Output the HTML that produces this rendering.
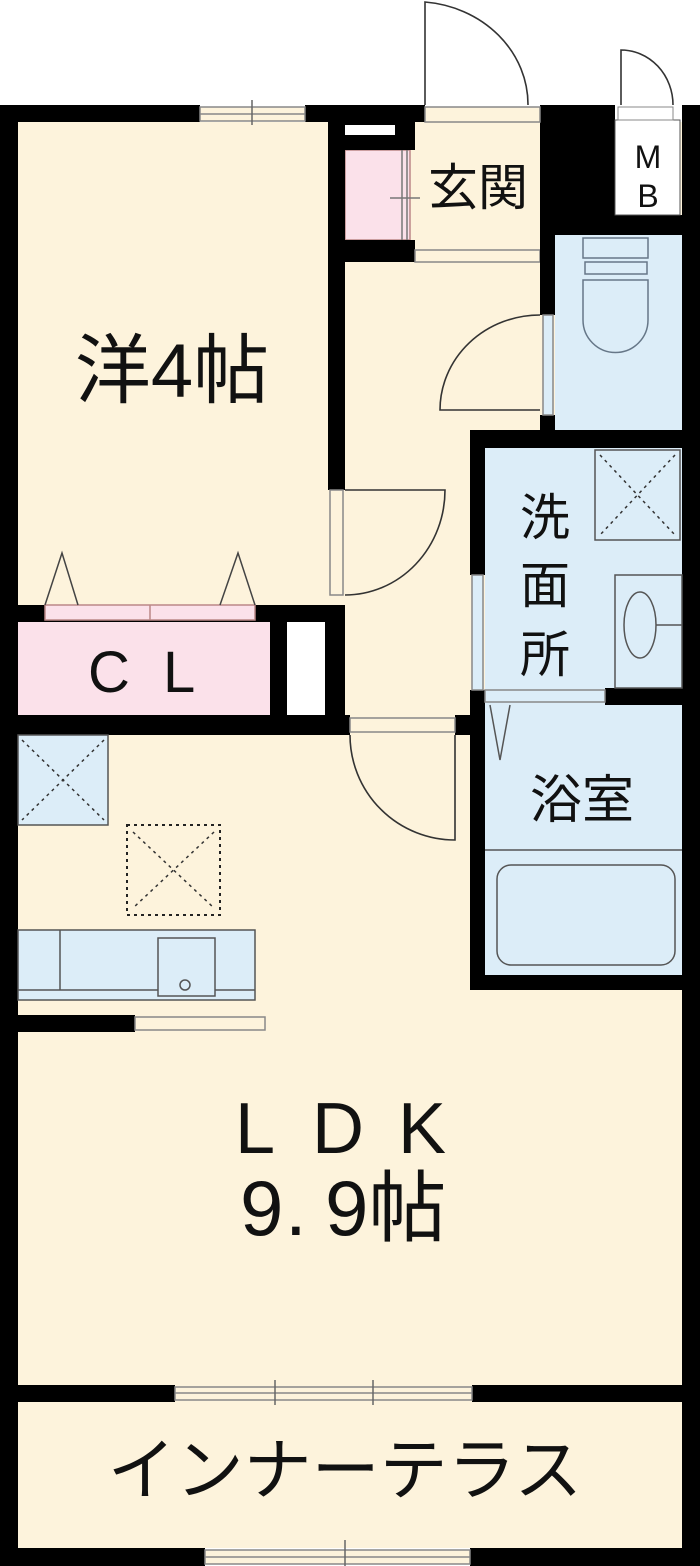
<!DOCTYPE html>
<html><head><meta charset="utf-8"><style>
html,body{margin:0;padding:0;background:#fff;}
svg{display:block;}
text{font-family:"Liberation Sans","Noto Sans CJK JP",sans-serif;fill:#111;}
</style></head><body>
<svg width="700" height="1566" viewBox="0 0 700 1566" xmlns="http://www.w3.org/2000/svg">
<rect x="18" y="122" width="664" height="1426" fill="#fdf3dc"/>
<rect x="555" y="235" width="127" height="195" fill="#dcedf8"/>
<rect x="485" y="448" width="197" height="527" fill="#dcedf8"/>
<rect x="18" y="620" width="252" height="95" fill="#fbe1ea"/>
<rect x="345" y="150" width="65" height="90" fill="#fbe1ea" stroke="#b88" stroke-width="1.5"/>
<rect x="0" y="105" width="18" height="1461" fill="#000"/>
<rect x="682" y="105" width="18" height="1461" fill="#000"/>
<rect x="0" y="105" width="200" height="17" fill="#000"/>
<rect x="305" y="105" width="120" height="17" fill="#000"/>
<rect x="540" y="105" width="75" height="130" fill="#000"/>
<rect x="540" y="215" width="160" height="20" fill="#000"/>
<rect x="0" y="1548" width="205" height="18" fill="#000"/>
<rect x="470" y="1548" width="230" height="18" fill="#000"/>
<rect x="200" y="107" width="105" height="14" fill="#fdf3dc" stroke="#888" stroke-width="1.5"/>
<line x1="200" y1="114" x2="305" y2="114" stroke="#888" stroke-width="1.5"/>
<line x1="252" y1="100" x2="252" y2="125" stroke="#666" stroke-width="1.5"/>
<rect x="425" y="107" width="115" height="15" fill="#fdf3dc" stroke="#888" stroke-width="1.5"/>
<path d="M425 105 V2 A113 103 0 0 1 528 105" fill="none" stroke="#333" stroke-width="1.6"/>
<rect x="615" y="120" width="65" height="95" fill="#fff" stroke="#555"/>
<rect x="618" y="107" width="55" height="13" fill="#fff" stroke="#888"/>
<path d="M621 105 V50 A52 55 0 0 1 673 105" fill="none" stroke="#333" stroke-width="1.6"/>
<text x="648" y="168" font-size="32" text-anchor="middle">M</text>
<text x="648" y="207" font-size="32" text-anchor="middle">B</text>
<rect x="328" y="122" width="17" height="368" fill="#000"/>
<rect x="345" y="122" width="70" height="28" fill="#000"/>
<rect x="345" y="240" width="70" height="22" fill="#000"/>
<rect x="345" y="125" width="50" height="10" fill="#fff"/>
<line x1="402" y1="150" x2="402" y2="240" stroke="#777" stroke-width="1.5"/>
<line x1="407" y1="150" x2="407" y2="240" stroke="#777" stroke-width="1.5"/>
<line x1="390" y1="198" x2="420" y2="198" stroke="#777" stroke-width="1.5"/>
<rect x="415" y="250" width="125" height="12" fill="#fdf3dc" stroke="#888" stroke-width="1.5"/>
<text x="478" y="205" font-size="50" text-anchor="middle">玄関</text>
<rect x="540" y="235" width="15" height="80" fill="#000"/>
<rect x="540" y="415" width="15" height="15" fill="#000"/>
<rect x="543" y="315" width="10" height="100" fill="#dcedf8" stroke="#888" stroke-width="1.5"/>
<path d="M540 315 A100 95 0 0 0 440 410 H540" fill="none" stroke="#333" stroke-width="1.6"/>
<rect x="583" y="238" width="65" height="20" fill="#dcedf8" stroke="#678" stroke-width="1.5"/>
<rect x="585" y="262" width="62" height="12" fill="#dcedf8" stroke="#678" stroke-width="1.5"/>
<path d="M583 280 H648 V320 A32 32 0 0 1 583 320 Z" fill="#dcedf8" stroke="#678" stroke-width="1.5"/>
<rect x="470" y="430" width="230" height="18" fill="#000"/>
<rect x="470" y="430" width="15" height="145" fill="#000"/>
<rect x="470" y="690" width="15" height="300" fill="#000"/>
<rect x="472" y="575" width="11" height="115" fill="#dcedf8" stroke="#888" stroke-width="1.5"/>
<rect x="605" y="688" width="95" height="17" fill="#000"/>
<rect x="485" y="690" width="120" height="12" fill="#dcedf8" stroke="#888" stroke-width="1.5"/>
<path d="M490 705 L500 760 L510 705" fill="none" stroke="#555" stroke-width="1.5"/>
<rect x="595" y="450" width="85" height="90" fill="#dcedf8" stroke="#555" stroke-width="1.5"/>
<path d="M600 455 L675 535 M675 455 L600 535" stroke="#333" stroke-width="1.5" stroke-dasharray="3,4"/>
<rect x="615" y="575" width="67" height="113" fill="#dcedf8" stroke="#555" stroke-width="1.5"/>
<ellipse cx="640" cy="625" rx="16" ry="33" fill="none" stroke="#555" stroke-width="1.5"/>
<line x1="656" y1="625" x2="682" y2="625" stroke="#555" stroke-width="1.5"/>
<text x="545" y="535" font-size="50" text-anchor="middle">洗</text>
<text x="545" y="603" font-size="50" text-anchor="middle">面</text>
<text x="545" y="672" font-size="50" text-anchor="middle">所</text>
<text x="582" y="818" font-size="52" text-anchor="middle">浴室</text>
<line x1="485" y1="850" x2="682" y2="850" stroke="#555" stroke-width="1.5"/>
<rect x="497" y="865" width="178" height="100" rx="14" fill="#dcedf8" stroke="#555" stroke-width="1.5"/>
<rect x="470" y="975" width="230" height="15" fill="#000"/>
<rect x="330" y="490" width="13" height="105" fill="#fdf3dc" stroke="#888" stroke-width="1.5"/>
<path d="M345 490 H445 A100 105 0 0 1 345 595" fill="none" stroke="#333" stroke-width="1.6"/>
<rect x="0" y="605" width="345" height="17" fill="#000"/>
<rect x="45" y="605" width="210" height="15" fill="#fbe1ea" stroke="#b88" stroke-width="1.5"/>
<line x1="150" y1="605" x2="150" y2="620" stroke="#b88" stroke-width="1.5"/>
<path d="M45 605 L62 553 L78 605 M220 605 L238 553 L255 605" fill="none" stroke="#444" stroke-width="1.5"/>
<rect x="270" y="620" width="17" height="95" fill="#000"/>
<rect x="325" y="605" width="20" height="115" fill="#000"/>
<rect x="287" y="622" width="38" height="93" fill="#fff"/>
<text x="88" y="692" font-size="58">C</text>
<text x="163" y="692" font-size="58">L</text>
<rect x="0" y="715" width="350" height="20" fill="#000"/>
<rect x="455" y="715" width="30" height="20" fill="#000"/>
<rect x="350" y="718" width="105" height="14" fill="#fdf3dc" stroke="#888" stroke-width="1.5"/>
<path d="M350 735 A105 105 0 0 0 455 840 V735" fill="none" stroke="#333" stroke-width="1.6"/>
<rect x="18" y="735" width="90" height="90" fill="#dcedf8" stroke="#555" stroke-width="1.5"/>
<path d="M22 740 L104 820 M104 740 L22 820" stroke="#333" stroke-width="1.5" stroke-dasharray="3,4"/>
<rect x="127" y="825" width="93" height="90" fill="none" stroke="#222" stroke-width="2" stroke-dasharray="3,4"/>
<path d="M133 832 L214 908 M214 832 L133 908" stroke="#333" stroke-width="1.5" stroke-dasharray="3,4"/>
<rect x="18" y="930" width="237" height="70" fill="#dcedf8" stroke="#555" stroke-width="1.5"/>
<line x1="18" y1="990" x2="255" y2="990" stroke="#555" stroke-width="1.5"/>
<line x1="60" y1="930" x2="60" y2="990" stroke="#555" stroke-width="1.5"/>
<rect x="158" y="938" width="57" height="58" fill="#dcedf8" stroke="#555" stroke-width="1.5"/>
<circle cx="185" cy="985" r="5" fill="none" stroke="#555" stroke-width="1.5"/>
<rect x="0" y="1015" width="135" height="17" fill="#000"/>
<rect x="135" y="1017" width="130" height="13" fill="#fdf3dc" stroke="#888" stroke-width="1.5"/>
<text x="235" y="1153" font-size="72">L</text>
<text x="312" y="1153" font-size="72">D</text>
<text x="398" y="1153" font-size="72">K</text>
<text x="240" y="1235" font-size="78">9</text>
<text x="285" y="1235" font-size="78">.</text>
<text x="325" y="1235" font-size="78">9帖</text>
<text x="172" y="397" font-size="76" text-anchor="middle">洋4帖</text>
<rect x="0" y="1385" width="175" height="17" fill="#000"/>
<rect x="472" y="1385" width="228" height="17" fill="#000"/>
<rect x="175" y="1387" width="297" height="13" fill="#fdf3dc" stroke="#888" stroke-width="1.5"/>
<line x1="175" y1="1393" x2="472" y2="1393" stroke="#888" stroke-width="1.5"/>
<line x1="275" y1="1380" x2="275" y2="1405" stroke="#666" stroke-width="1.5"/>
<line x1="373" y1="1380" x2="373" y2="1405" stroke="#666" stroke-width="1.5"/>
<text x="345" y="1494" font-size="68" text-anchor="middle">インナーテラス</text>
<rect x="205" y="1550" width="265" height="14" fill="#fdf3dc" stroke="#888" stroke-width="1.5"/>
<line x1="205" y1="1557" x2="470" y2="1557" stroke="#888" stroke-width="1.5"/>
<line x1="345" y1="1540" x2="345" y2="1566" stroke="#666" stroke-width="1.5"/>
</svg>
</body></html>
